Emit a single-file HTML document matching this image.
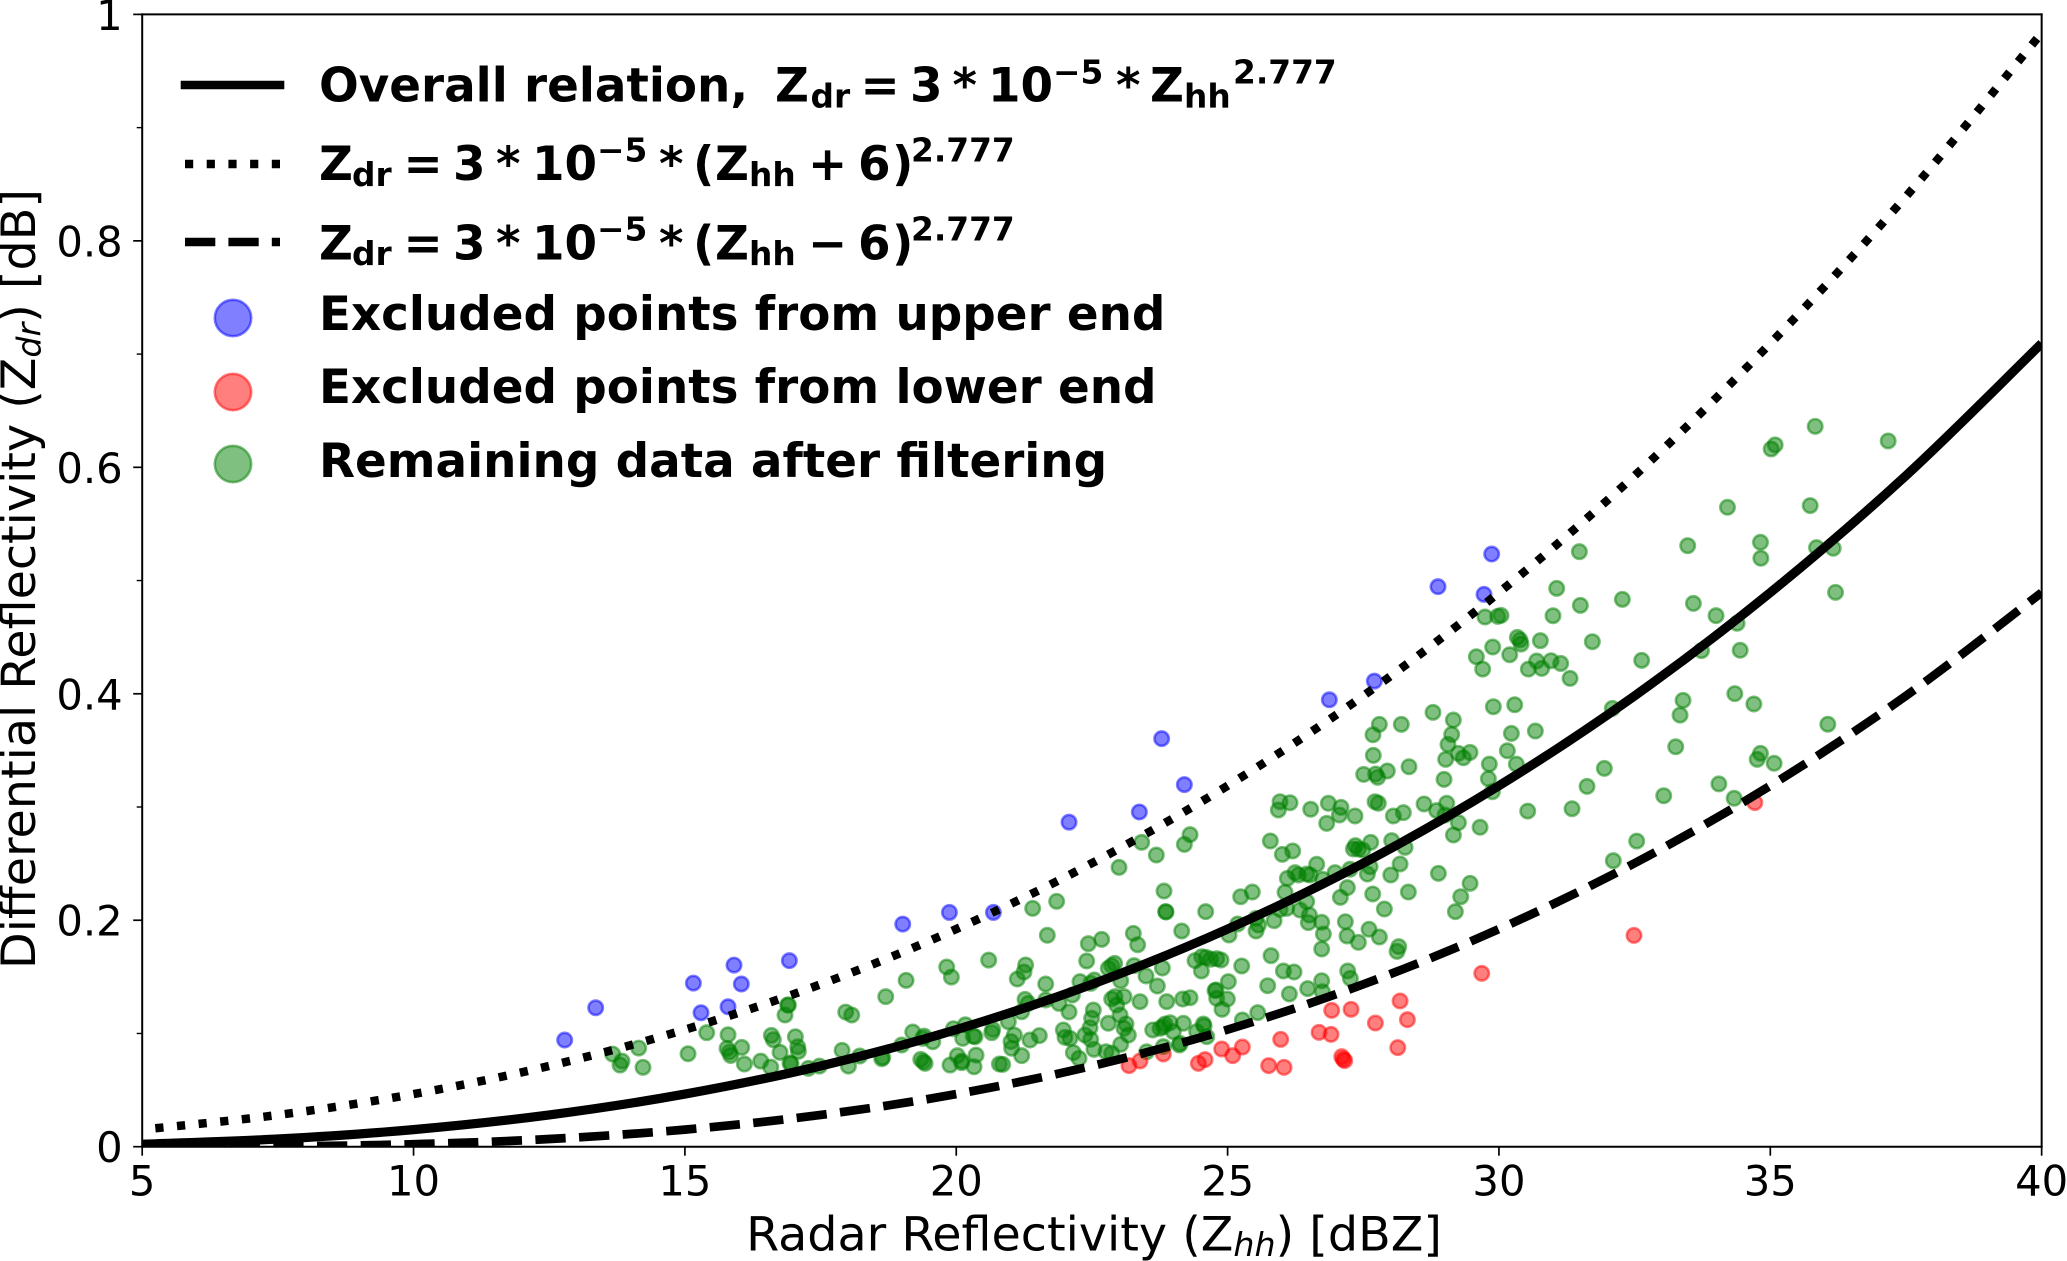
<!DOCTYPE html>
<html lang="en">
<head>
<meta charset="utf-8">
<title>Differential Reflectivity vs Radar Reflectivity</title>
<style>
html,body{margin:0;padding:0;background:#fff;}
svg{display:block;}
text{font-family:"DejaVu Sans","Liberation Sans",sans-serif;fill:#000;}
.tick{font-size:41.7px;}
.axis{font-size:47.6px;}
.leg{font-size:46.8px;font-weight:bold;}
.small{font-size:32.8px;font-weight:bold;}
</style>
</head>
<body>
<svg id="chart" xmlns="http://www.w3.org/2000/svg" width="2067" height="1261" viewBox="0 0 2067 1261">
  <rect x="0" y="0" width="2067" height="1261" fill="#fff"/>
  <defs><clipPath id="plot-clip"><rect x="142.2" y="14.4" width="1899.6" height="1132.3"/></clipPath></defs>
  <g id="points" clip-path="url(#plot-clip)"></g>
  <g id="curves" clip-path="url(#plot-clip)"></g>
  <g id="axes"></g>

  <text class="axis" x="1094" y="1250.7" text-anchor="middle">Radar Reflectivity (Z<tspan font-size="33.3" font-style="italic" dy="5.5">hh</tspan><tspan dy="-5.5">) [dBZ]</tspan></text>
  <text class="axis" transform="translate(35,579) rotate(-90)" text-anchor="middle">Differential Reflectivity (Z<tspan font-size="33.3" font-style="italic" dy="5.5">dr</tspan><tspan dy="-5.5">) [dB]</tspan></text>

  <g id="legend">
    <line x1="185" y1="85" x2="280" y2="85" stroke="#000" stroke-width="8.6" stroke-linecap="square"/>
    <line x1="185" y1="164" x2="280" y2="164" stroke="#000" stroke-width="8.4" stroke-dasharray="8.2 13.5"/>
    <line x1="185" y1="242" x2="280" y2="242" stroke="#000" stroke-width="8.6" stroke-dasharray="30.3 13.1"/>
    <circle cx="233" cy="318" r="18.2" fill="#0000ff" fill-opacity="0.5" stroke="#0000ff" stroke-opacity="0.5" stroke-width="2.6"/>
    <circle cx="233" cy="392" r="18.2" fill="#ff0000" fill-opacity="0.5" stroke="#ff0000" stroke-opacity="0.5" stroke-width="2.6"/>
    <circle cx="233" cy="464" r="18.2" fill="#008000" fill-opacity="0.5" stroke="#008000" stroke-opacity="0.5" stroke-width="2.6"/>

    <g>
      <text class="leg" x="319" y="101.7">Overall relation,</text>
      <text class="leg" x="775" y="101.7">Z</text><text class="small" x="810.5" y="107.3">dr</text>
      <text class="leg" x="860.5" y="101.7">=</text>
      <text class="leg" x="910" y="101.7">3</text>
      <text class="leg" x="952.5" y="101.7">*</text>
      <text class="leg" x="988" y="101.7">10</text>
      <text class="small" x="1053" y="83.3">−5</text>
      <text class="leg" x="1116" y="101.7">*</text>
      <text class="leg" x="1150" y="101.7">Z</text><text class="small" x="1184" y="107.3">hh</text>
      <text class="small" x="1233" y="83.3">2.777</text>
    </g>
    <g>
      <text class="leg" x="319" y="180">Z</text><text class="small" x="352" y="186">dr</text>
      <text class="leg" x="403.5" y="180">=</text>
      <text class="leg" x="453" y="180">3</text>
      <text class="leg" x="496" y="180">*</text>
      <text class="leg" x="532" y="180">10</text>
      <text class="small" x="597" y="161.7">−5</text>
      <text class="leg" x="659" y="180">*</text>
      <text class="leg" x="693" y="180">(</text>
      <text class="leg" x="715" y="180">Z</text><text class="small" x="749" y="186">hh</text>
      <text class="leg" x="808" y="180">+</text>
      <text class="leg" x="858" y="180">6</text>
      <text class="leg" x="892" y="180">)</text>
      <text class="small" x="911" y="161.7">2.777</text>
    </g>
    <g>
      <text class="leg" x="319" y="259.3">Z</text><text class="small" x="352" y="265">dr</text>
      <text class="leg" x="403.5" y="259.3">=</text>
      <text class="leg" x="453" y="259.3">3</text>
      <text class="leg" x="496" y="259.3">*</text>
      <text class="leg" x="532" y="259.3">10</text>
      <text class="small" x="597" y="240.7">−5</text>
      <text class="leg" x="659" y="259.3">*</text>
      <text class="leg" x="693" y="259.3">(</text>
      <text class="leg" x="715" y="259.3">Z</text><text class="small" x="749" y="265">hh</text>
      <text class="leg" x="808" y="259.3">−</text>
      <text class="leg" x="858" y="259.3">6</text>
      <text class="leg" x="892" y="259.3">)</text>
      <text class="small" x="911" y="240.7">2.777</text>
    </g>
    <text class="leg" x="319" y="330">Excluded points from upper end</text>
    <text class="leg" x="319" y="403">Excluded points from lower end</text>
    <text class="leg" x="319" y="477">Remaining data after filtering</text>
  </g>
</svg>
<script>
const xTicks = [5, 10, 15, 20, 25, 30, 35, 40];
const yTicks = [0, 0.2, 0.4, 0.6, 0.8, 1];
const yTickLabels = ["0", "0.2", "0.4", "0.6", "0.8", "1"];
const yMinorTicks = [0.1, 0.3, 0.5, 0.7, 0.9];
const curveX = [5, 7.5, 10, 12.5, 15, 17.5, 20, 22.5, 25, 27.5, 30, 32.5, 35, 37.5, 40];
const solidY = [0.0022, 0.00678, 0.01509, 0.02803, 0.04647, 0.0713, 0.1034, 0.1434, 0.1922, 0.2504, 0.3188, 0.3982, 0.4894, 0.5927, 0.7094];
const dottedY = [0.01509, 0.02803, 0.04647, 0.0713, 0.1034, 0.1434, 0.1922, 0.2504, 0.3188, 0.3982, 0.4894, 0.5927, 0.7094, 0.8392, 0.9836];
const dashedY = [0, 0.000321, 0.0022, 0.00678, 0.01509, 0.02803, 0.04647, 0.0713, 0.1034, 0.1434, 0.1922, 0.2504, 0.3188, 0.3982, 0.4894];
const bluePoints = [[12.785,.0942],[13.356,.1227],[15.156,.1445],[15.297,.1183],[15.795,.1236],[15.905,.1604],[16.04,.1437],[16.925,.1643],[19.014,.1966],[19.874,.2069],[20.685,.2069],[22.078,.2866],[23.374,.2956],[23.785,.3604],[24.203,.3198],[26.875,.3947],[27.704,.4112],[28.877,.4946],[29.725,.4878],[29.866,.5234]];
const redPoints = [[23.183,.0716],[23.386,.0757],[23.816,.0819],[24.461,.0736],[24.584,.0769],[24.891,.0863],[25.094,.0804],[25.272,.088],[25.757,.0716],[26.04,.0701],[25.978,.0948],[26.685,.101],[26.906,.0992],[26.918,.1204],[27.275,.1213],[27.723,.1092],[27.103,.0795],[27.133,.0772],[27.158,.076],[28.135,.0875],[28.178,.1287],[28.313,.1122],[29.683,.1531],[32.488,.1866],[34.715,.3039]];
const greenPoints = [
[13.669,.0818],[14.148,.0871],[13.841,.0756],[13.805,.0721],[14.228,.0701],[15.058,.0821],[15.402,.1007],[15.795,.0989],[15.776,.0868],[15.82,.0836],[15.844,.0806],[16.047,.0877],[16.096,.073],[16.397,.0756],[16.581,.0703],[16.593,.0983],[16.63,.0945],[16.753,.0833],[16.845,.1163],[16.894,.1251],[16.907,.1251],[17.036,.0971],[17.079,.0883],[17.091,.0842],[16.937,.0739],[16.956,.0733],[17.275,.0692],[17.478,.0712],[17.896,.0851],[17.963,.1189],[18.074,.1163],[18.013,.0712],[18.222,.0801],[18.627,.0777],[18.645,.0789],[18.701,.1325],[18.995,.0898],[19.076,.1469],[19.198,.1013],[19.346,.0771],[19.395,.0751],[19.426,.0736],[19.407,.0977],[19.382,.0957],[19.567,.0927],[19.824,.1587],[19.91,.1498],[19.885,.0721],[19.947,.1042],[20.02,.0804],[20.1,.0756],[20.1,.0742],[20.119,.0957],[20.168,.1077],[20.315,.0977],[20.346,.0971],[20.365,.0809],[20.328,.0706],[20.598,.1648],[20.672,.1036],[20.654,.1007],[20.795,.073],
[25.966,.3047],[26.15,.3038],[25.935,.2974],[26.531,.298],[26.857,.3033],[27.09,.2997],[27.059,.293],[27.348,.2921],[26.826,.2856],[27.717,.3047],[27.778,.3033],[28.055,.2921],[28.239,.295],[28.62,.3027],[28.853,.2968],[29.037,.3033],[29.007,.293],[29.253,.2862],[29.161,.2753],[29.652,.2821],[24.308,.2756],[24.203,.267],[23.417,.2688],[23.687,.2576],[22.999,.2467],[21.85,.2167],[21.408,.2105],[25.788,.27],[26.009,.2582],[26.199,.2612],[27.355,.2659],[27.318,.2629],[27.41,.2629],[27.49,.262],[27.637,.2688],[28.024,.2703],[28.27,.2644],[26.642,.2494],[26.243,.242],[26.304,.24],[26.101,.237],[26.457,.2408],[26.519,.24],[26.98,.242],[26.753,.2361],[27.256,.245],[27.625,.2473],[27.576,.2408],[28.006,.24],[28.178,.2497],[28.884,.2414],[29.468,.2326],[29.296,.2208],[29.197,.2076],[28.331,.2249],[27.674,.2232],[27.889,.2099],[27.207,.2288],[27.078,.2202],[26.058,.2247],[26.457,.2164],[26.335,.209],[26.089,.2105],[25.966,.2096],[25.456,.2249],[25.241,.2208],[23.828,.2258],[23.859,.2076],[23.865,.2073],[24.596,.2076],[24.154,.1905],[21.678,.1867],[22.68,.1831],[22.434,.1793],[23.263,.1884],[23.343,.1784],[25.186,.1967],[25.524,.2017],[25.567,.1958],[25.524,.1905],[25.856,.1996],[25.026,.187],[26.507,.2046],[26.488,.1979],[26.734,.1982],[26.765,.1878],[27.17,.1987],[27.201,.1861],[27.41,.1805],[27.606,.192],[27.797,.1852],[26.734,.1746],[28.153,.1767],[28.122,.1725],[25.8,.1687],[25.26,.1596],[26.028,.1552],[26.224,.1543],[27.213,.1552],[27.262,.1487],[26.734,.1466],[25.739,.1422],[26.476,.1396],[26.138,.1349],[26.746,.1369],[24.4,.1643],[24.523,.1678],[24.602,.1672],[24.688,.1655],[24.799,.1661],[24.879,.1649],[24.517,.1552],[23.798,.1578],[23.497,.1508],[23.276,.1599],[22.919,.1619],[22.864,.1599],[22.802,.1575],[22.403,.164],[21.279,.1605],[21.248,.1543],[21.125,.1481],[21.648,.1437],[22.28,.1458],[22.544,.1472],[22.477,.1443],[23.03,.1466],[23.706,.1419],[25.014,.1458],[24.787,.1384],[24.768,.1378],[24.799,.131],[24.996,.1304],[24.897,.1213],[24.308,.1316],[24.172,.1304],[23.878,.1281],[23.386,.1281],[23.091,.1325],[22.925,.1325],[22.864,.1304],[22.956,.1251],[22.139,.134],[21.893,.1266],[21.648,.1296],[21.267,.1301],[21.328,.1266],[21.205,.1192],[22.078,.119],[22.526,.1207],[22.495,.1134],[23.018,.1163],[23.128,.1084],[22.802,.109],[22.465,.1051],[22.372,.0986],[22.477,.0948],[23.171,.0986],[23.091,.1045],[23.03,.0904],[22.538,.086],[22.759,.0839],[22.864,.0825],[21.973,.1031],[22.004,.0966],[22.096,.0957],[21.531,.0981],[21.359,.0942],[21.07,.0986],[21.009,.0928],[21.021,.0869],[21.205,.0804],[20.855,.0727],[20.96,.1104],[22.157,.0831],[22.262,.078],[23.509,.0839],[23.816,.0884],[23.62,.1031],[23.816,.106],[23.755,.1045],[23.847,.1084],[23.939,.1095],[24,.1016],[24.185,.109],[24.43,.1016],[24.553,.1084],[24.566,.1066],[24.615,.0972],[24.123,.0913],[24.111,.0898],[25.272,.1119],[25.555,.1184],
[31.482,.5255],[33.478,.5308],[31.064,.4931],[31.5,.4781],[32.274,.4834],[33.583,.4798],[30.996,.4689],[29.743,.4678],[29.977,.4684],[30.038,.4692],[30.339,.4498],[30.388,.4475],[30.407,.4439],[30.763,.4469],[31.721,.446],[29.885,.4413],[30.198,.4345],[29.584,.4327],[29.7,.4218],[30.695,.4289],[30.542,.4218],[30.788,.4224],[30.96,.4292],[31.138,.4268],[31.31,.4136],[32.63,.4295],[27.796,.373],[27.679,.3638],[28.201,.373],[28.785,.3836],[29.16,.3768],[29.897,.3886],[30.29,.3903],[29.129,.3641],[29.061,.3553],[29.252,.3474],[29.344,.3435],[29.467,.3482],[29.018,.3421],[30.229,.365],[30.671,.3671],[30.155,.3497],[27.685,.3456],[28.343,.3356],[27.507,.3288],[27.728,.3291],[27.765,.3262],[27.943,.3318],[29.823,.3379],[30.321,.3379],[29.805,.325],[28.988,.3244],[32.09,.3871],[33.392,.3942],[33.337,.3812],[33.257,.3532],[31.942,.3341],[31.623,.3182],[33.036,.31],[29.879,.3135],[30.53,.2964],[31.347,.2985],[32.538,.2699],[32.107,.2526],
[35.827,.6362],[37.172,.6233],[35.016,.6162],[35.09,.6198],[34.211,.5647],[35.735,.5662],[34.819,.5338],[34.826,.5197],[35.852,.5291],[36.159,.5285],[36.202,.4896],[34,.469],[34.389,.4623],[33.732,.4381],[34.445,.4384],[34.346,.4001],[34.697,.391],[36.06,.3731],[34.819,.3474],[34.758,.3421],[35.071,.3386],[34.052,.3204],[34.334,.3077]
];

const NS = "http://www.w3.org/2000/svg";
function xScale(v) { return 142.2 + (v - 5) * 54.27; }
function yScale(v) { return 1146.7 - v * 1132.3; }

function drawPoints(points, color, markName) {
  const group = document.getElementById("points");
  points.forEach(function (p) {
    const c = document.createElementNS(NS, "circle");
    c.setAttribute("cx", xScale(p[0]).toFixed(2));
    c.setAttribute("cy", yScale(p[1]).toFixed(2));
    c.setAttribute("r", "7.2");
    c.setAttribute("fill", color);
    c.setAttribute("fill-opacity", "0.5");
    c.setAttribute("stroke", color);
    c.setAttribute("stroke-opacity", "0.5");
    c.setAttribute("stroke-width", "2.6");
    
    
    group.appendChild(c);
  });
}

function curvePath(xs, ys) {
  const pts = xs.map(function (x, i) { return [xScale(x), yScale(ys[i])]; });
  let d = "M" + pts[0][0].toFixed(2) + " " + pts[0][1].toFixed(2);
  for (let i = 0; i < pts.length - 1; i++) {
    const p0 = pts[Math.max(i - 1, 0)];
    const p1 = pts[i];
    const p2 = pts[i + 1];
    const p3 = pts[Math.min(i + 2, pts.length - 1)];
    const c1x = p1[0] + (p2[0] - p0[0]) / 6;
    const c1y = p1[1] + (p2[1] - p0[1]) / 6;
    const c2x = p2[0] - (p3[0] - p1[0]) / 6;
    const c2y = p2[1] - (p3[1] - p1[1]) / 6;
    d += "C" + c1x.toFixed(2) + " " + c1y.toFixed(2) + " " + c2x.toFixed(2) + " " + c2y.toFixed(2) + " " + p2[0].toFixed(2) + " " + p2[1].toFixed(2);
  }
  return d;
}

function drawCurve(ys, width, dash, offset, markName) {
  const path = document.createElementNS(NS, "path");
  path.setAttribute("d", curvePath(curveX, ys));
  path.setAttribute("fill", "none");
  path.setAttribute("stroke", "#000");
  path.setAttribute("stroke-width", width);
  if (dash) {
    path.setAttribute("stroke-dasharray", dash);
    path.setAttribute("stroke-dashoffset", offset);
  }
  
  
  document.getElementById("curves").appendChild(path);
}

function addLine(x1, y1, x2, y2, width, markName) {
  const l = document.createElementNS(NS, "line");
  l.setAttribute("x1", x1);
  l.setAttribute("y1", y1);
  l.setAttribute("x2", x2);
  l.setAttribute("y2", y2);
  l.setAttribute("stroke", "#000");
  l.setAttribute("stroke-width", width);
  
  
  document.getElementById("axes").appendChild(l);
}

function addLabel(x, y, anchor, str, markName) {
  const t = document.createElementNS(NS, "text");
  t.setAttribute("x", x);
  t.setAttribute("y", y);
  t.setAttribute("text-anchor", anchor);
  t.setAttribute("class", "tick");
  t.textContent = str;
  
  
  document.getElementById("axes").appendChild(t);
}

drawPoints(greenPoints, "#008000", "remaining-point");
drawPoints(bluePoints, "#0000ff", "excluded-upper-point");
drawPoints(redPoints, "#ff0000", "excluded-lower-point");

drawCurve(dottedY, "8.5", "8.2 13.5", "8.4", "upper-relation-curve");
drawCurve(dashedY, "8.7", "30.3 13.4", "0", "lower-relation-curve");
drawCurve(solidY, "9.2", null, "0", "overall-relation-curve");

const plotLeft = xScale(5), plotRight = xScale(40), plotTop = yScale(1), plotBottom = yScale(0);
addLine(plotLeft, plotTop - 1, plotLeft, plotBottom + 1, 2, "left-spine");
addLine(plotRight, plotTop - 1, plotRight, plotBottom + 1, 2, "right-spine");
addLine(plotLeft - 1, plotTop, plotRight + 1, plotTop, 2, "top-spine");
addLine(plotLeft - 1, plotBottom, plotRight + 1, plotBottom, 2, "bottom-spine");

xTicks.forEach(function (v) {
  addLine(xScale(v), plotBottom, xScale(v), plotBottom + 9, 1.7, "x-tick");
  addLabel(xScale(v), 1195.7, "middle", String(v), "x-tick-label");
});
yTicks.forEach(function (v, i) {
  addLine(plotLeft - 9, yScale(v), plotLeft, yScale(v), 1.7, "y-tick");
  addLabel(122.7, yScale(v) + 15.5, "end", yTickLabels[i], "y-tick-label");
});
yMinorTicks.forEach(function (v) {
  addLine(plotLeft - 5.5, yScale(v), plotLeft, yScale(v), 1.4, "y-minor-tick");
});
</script>
</body>
</html>
